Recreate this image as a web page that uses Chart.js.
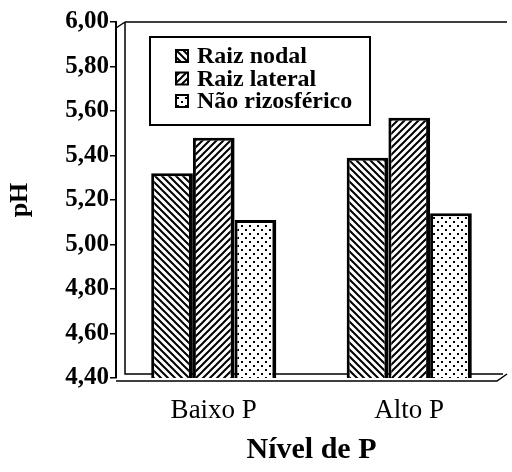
<!DOCTYPE html>
<html>
<head>
<meta charset="utf-8">
<script src="https://cdn.jsdelivr.net/npm/chart.js@4/dist/chart.umd.min.js"></script>
<style>
  body { margin: 0; background: #fff; }
  #wrap { width: 512px; height: 472px; }
</style>
</head>
<body>
<div id="wrap"><canvas id="c" width="512" height="472"></canvas></div>
<script>
const categories = ['Baixo P', 'Alto P']
const seriesNames = ['Raiz nodal', 'Raiz lateral', 'Não rizosférico']
const raizNodal = [5.32, 5.39]
const raizLateral = [5.48, 5.57]
const naoRizosferico = [5.11, 5.14]
const yTicks = [4.4, 4.6, 4.8, 5.0, 5.2, 5.4, 5.6, 5.8, 6.0]

const serif = '"Liberation Serif", "DejaVu Serif", serif'

// hatch patterns like the old printed figure
function makePattern(kind) {
  let p = document.createElement('canvas')
  let size = kind == 'dots' ? 8 : 7
  p.width = size
  p.height = size
  let ctx = p.getContext('2d')
  ctx.fillStyle = '#fff'
  ctx.fillRect(0, 0, size, size)
  ctx.strokeStyle = '#000'
  ctx.fillStyle = '#000'
  ctx.lineWidth = 2
  if (kind == 'back') {
    ctx.beginPath()
    ctx.moveTo(-1, -1); ctx.lineTo(size + 1, size + 1)
    ctx.moveTo(-1, size - 1); ctx.lineTo(1, size + 1)
    ctx.moveTo(size - 1, -1); ctx.lineTo(size + 1, 1)
    ctx.stroke()
  } else if (kind == 'fwd') {
    ctx.beginPath()
    ctx.moveTo(-1, size + 1); ctx.lineTo(size + 1, -1)
    ctx.moveTo(-1, 1); ctx.lineTo(1, -1)
    ctx.moveTo(size - 1, size + 1); ctx.lineTo(size + 1, size - 1)
    ctx.stroke()
  } else {
    ctx.fillRect(1, 1, 2, 2)
    ctx.fillRect(5, 5, 2, 2)
  }
  return ctx.createPattern(p, 'repeat')
}

const fills = [makePattern('back'), makePattern('fwd'), makePattern('dots')]

// legend box drawn inside the plot, as in the figure
const boxLegend = {
  id: 'boxLegend',
  afterDraw(chart) {
    let ctx = chart.ctx
    let a = chart.chartArea
    let x = a.left + 34, y = a.top + 15, w = 220, h = 88
    ctx.save()
    ctx.fillStyle = '#fff'
    ctx.fillRect(x, y, w, h)
    ctx.strokeStyle = '#000'
    ctx.lineWidth = 2
    ctx.strokeRect(x, y, w, h)
    ctx.font = 'bold 24px ' + serif
    ctx.textBaseline = 'middle'
    chart.data.datasets.forEach((ds, i) => {
      let cy = y + 19 + i * 22.5
      ctx.fillStyle = ds.backgroundColor
      ctx.fillRect(x + 26, cy - 6, 12, 12)
      ctx.lineWidth = 2
      ctx.strokeRect(x + 26, cy - 6, 12, 12)
      ctx.fillStyle = '#000'
      ctx.fillText(ds.label, x + 47, cy + 1)
    })
    ctx.restore()
  }
}

// frame: top line, left wall and floor
const frame = {
  id: 'frame',
  beforeDatasetsDraw(chart) {
    let ctx = chart.ctx
    let a = chart.chartArea
    ctx.save()
    ctx.strokeStyle = '#000'
    ctx.lineWidth = 1.5
    ctx.beginPath()
    ctx.moveTo(a.left + 9, a.top)
    ctx.lineTo(a.right, a.top)
    ctx.moveTo(a.left + 9, a.top)
    ctx.lineTo(a.left + 9, a.bottom - 4)
    ctx.lineTo(a.right - 4, a.bottom - 4)
    ctx.moveTo(a.left, a.top + 6)
    ctx.lineTo(a.left + 9, a.top)
    ctx.moveTo(a.left, a.bottom + 3)
    ctx.lineTo(a.right - 10, a.bottom + 3)
    ctx.lineTo(a.right, a.bottom - 4)
    ctx.stroke()
    ctx.restore()
  }
}

const border = { top: 3, left: 3, right: 4, bottom: 0 }

new Chart(document.getElementById('c'), {
  type: 'bar',
  data: {
    labels: categories,
    datasets: [
      { label: seriesNames[0], data: raizNodal, backgroundColor: fills[0], borderColor: '#000', borderWidth: border, borderSkipped: false },
      { label: seriesNames[1], data: raizLateral, backgroundColor: fills[1], borderColor: '#000', borderWidth: border, borderSkipped: false },
      { label: seriesNames[2], data: naoRizosferico, backgroundColor: fills[2], borderColor: '#000', borderWidth: border, borderSkipped: false }
    ]
  },
  options: {
    responsive: false,
    animation: false,
    layout: { padding: { top: 22, right: 5, left: 0, bottom: 0 } },
    plugins: {
      legend: { display: false },
      tooltip: { enabled: false }
    },
    datasets: {
      bar: { categoryPercentage: 0.64, barPercentage: 1.0 }
    },
    scales: {
      x: {
        afterFit(scale) {
          scale.height = 94
        },
        grid: { display: false, drawTicks: false },
        border: { display: false },
        ticks: { color: '#000', font: { family: serif, size: 27 }, padding: 17 },
        title: { display: true, text: 'Nível de P', color: '#000', font: { family: serif, size: 30, weight: 'bold' }, padding: { top: 4, bottom: 4 } }
      },
      y: {
        min: 4.4,
        max: 6.0,
        afterBuildTicks(scale) {
          scale.ticks = yTicks.map(v => ({ value: v }))
        },
        afterFit(scale) {
          scale.width = 116
        },
        grid: { drawOnChartArea: false, tickLength: 6, color: '#000', lineWidth: 1.5 },
        border: { display: true, color: '#000', width: 2 },
        ticks: {
          color: '#000',
          font: { family: serif, size: 25, weight: 'bold' },
          padding: 1,
          callback: v => v.toFixed(2).replace('.', ',')
        },
        title: { display: true, text: 'pH', color: '#000', font: { family: serif, size: 26, weight: 'bold' }, padding: { top: 5, bottom: 20 } }
      }
    }
  },
  plugins: [frame, boxLegend]
})
</script>
</body>
</html>
